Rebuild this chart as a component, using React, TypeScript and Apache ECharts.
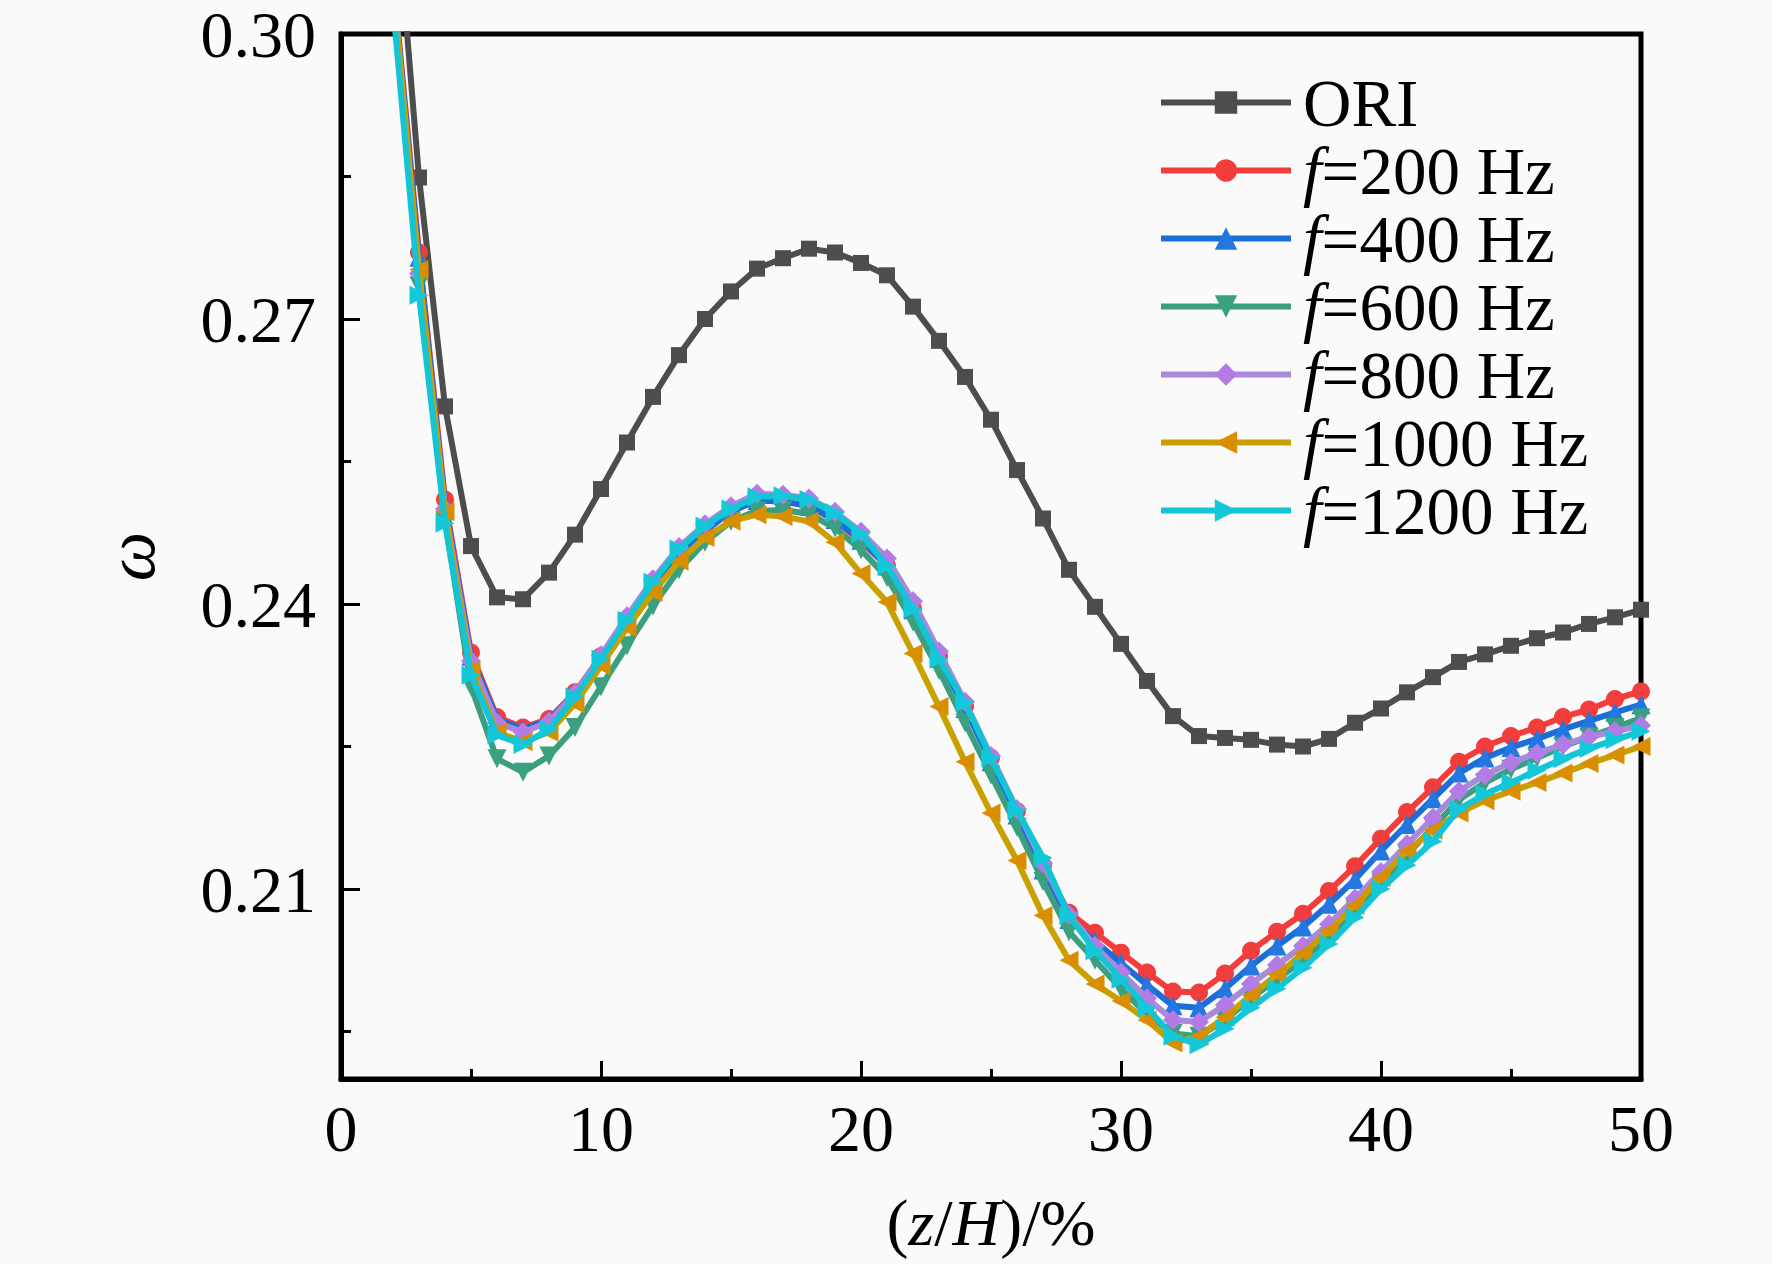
import React, { useEffect, useRef } from "react";
import * as echarts from "echarts";

const FONT = '"Liberation Serif", "Times New Roman", serif';

const xs = [2, 3, 4, 5, 6, 7, 8, 9, 10, 11, 12, 13, 14, 15, 16, 17, 18, 19, 20, 21, 22, 23, 24, 25, 26, 27, 28, 29, 30, 31, 32, 33, 34, 35, 36, 37, 38, 39, 40, 41, 42, 43, 44, 45, 46, 47, 48, 49, 50];

const seriesNames = ["ORI", "f=200 Hz", "f=400 Hz", "f=600 Hz", "f=800 Hz", "f=1000 Hz", "f=1200 Hz"];

const ori = [0.3180, 0.2849, 0.2608, 0.2461, 0.2407, 0.2405, 0.2433, 0.2473, 0.2521, 0.2570, 0.2618, 0.2662, 0.2700, 0.2729, 0.2753, 0.2764, 0.2774, 0.2770, 0.2759, 0.2746, 0.2713, 0.2677, 0.2639, 0.2594, 0.2541, 0.2490, 0.2436, 0.2397, 0.2358, 0.2319, 0.2282, 0.2261, 0.2259, 0.2257, 0.2252, 0.2250, 0.2258, 0.2275, 0.2290, 0.2307, 0.2323, 0.2339, 0.2347, 0.2356, 0.2364, 0.2370, 0.2379, 0.2386, 0.2394];

const f200 = [0.3060, 0.2770, 0.2510, 0.2349, 0.2281, 0.2270, 0.2279, 0.2307, 0.2345, 0.2384, 0.2422, 0.2455, 0.2478, 0.2498, 0.2510, 0.2508, 0.2503, 0.2488, 0.2466, 0.2440, 0.2395, 0.2345, 0.2292, 0.2238, 0.2182, 0.2125, 0.2075, 0.2054, 0.2033, 0.2012, 0.1992, 0.1991, 0.2011, 0.2035, 0.2055, 0.2074, 0.2098, 0.2124, 0.2153, 0.2181, 0.2207, 0.2234, 0.2250, 0.2261, 0.2270, 0.2281, 0.2289, 0.2300, 0.2308];

const f400 = [0.3055, 0.2765, 0.2505, 0.2345, 0.2279, 0.2268, 0.2278, 0.2305, 0.2343, 0.2382, 0.2420, 0.2453, 0.2477, 0.2497, 0.2509, 0.2508, 0.2503, 0.2489, 0.2467, 0.2440, 0.2394, 0.2343, 0.2290, 0.2234, 0.2178, 0.2120, 0.2068, 0.2045, 0.2022, 0.1999, 0.1977, 0.1975, 0.1995, 0.2019, 0.2040, 0.2060, 0.2084, 0.2110, 0.2140, 0.2168, 0.2195, 0.2222, 0.2238, 0.2249, 0.2258, 0.2268, 0.2277, 0.2286, 0.2294];

const f600 = [0.3040, 0.2735, 0.2488, 0.2313, 0.2237, 0.2223, 0.2240, 0.2270, 0.2313, 0.2356, 0.2398, 0.2436, 0.2465, 0.2487, 0.2498, 0.2499, 0.2495, 0.2480, 0.2457, 0.2428, 0.2381, 0.2330, 0.2275, 0.2220, 0.2165, 0.2108, 0.2055, 0.2025, 0.1995, 0.1968, 0.1948, 0.1945, 0.1962, 0.1985, 0.2005, 0.2025, 0.2050, 0.2078, 0.2106, 0.2136, 0.2165, 0.2194, 0.2212, 0.2226, 0.2238, 0.2250, 0.2260, 0.2270, 0.2280];

const f800 = [0.3050, 0.2748, 0.2500, 0.2340, 0.2275, 0.2265, 0.2276, 0.2306, 0.2346, 0.2387, 0.2426, 0.2460, 0.2484, 0.2503, 0.2516, 0.2515, 0.2511, 0.2497, 0.2476, 0.2448, 0.2403, 0.2350, 0.2297, 0.2240, 0.2184, 0.2127, 0.2073, 0.2040, 0.2012, 0.1985, 0.1962, 0.1960, 0.1978, 0.2000, 0.2020, 0.2040, 0.2063, 0.2090, 0.2118, 0.2147, 0.2175, 0.2203, 0.2220, 0.2233, 0.2243, 0.2252, 0.2260, 0.2266, 0.2272];

const f1000 = [0.3050, 0.2752, 0.2497, 0.2330, 0.2265, 0.2255, 0.2265, 0.2295, 0.2335, 0.2375, 0.2412, 0.2445, 0.2470, 0.2487, 0.2494, 0.2492, 0.2487, 0.2465, 0.2432, 0.2402, 0.2348, 0.2292, 0.2234, 0.2180, 0.2130, 0.2072, 0.2025, 0.2000, 0.1982, 0.1962, 0.1938, 0.1945, 0.1965, 0.1988, 0.2010, 0.2032, 0.2056, 0.2083, 0.2112, 0.2140, 0.2162, 0.2180, 0.2193, 0.2203, 0.2212, 0.2222, 0.2232, 0.2241, 0.2250];

const f1200 = [0.3030, 0.2725, 0.2485, 0.2325, 0.2262, 0.2252, 0.2268, 0.2302, 0.2342, 0.2383, 0.2423, 0.2458, 0.2482, 0.2500, 0.2513, 0.2514, 0.2510, 0.2496, 0.2474, 0.2440, 0.2395, 0.2342, 0.2296, 0.2238, 0.2183, 0.2133, 0.2072, 0.2035, 0.2005, 0.1975, 0.1945, 0.1936, 0.1953, 0.1975, 0.1995, 0.2017, 0.2042, 0.2070, 0.2100, 0.2125, 0.2150, 0.2184, 0.2200, 0.2212, 0.2225, 0.2237, 0.2248, 0.2257, 0.2266];

const yMajorTicks = [0.21, 0.24, 0.27, 0.3];
const yMinorTicks = [0.195, 0.225, 0.255, 0.285];

const seriesValues = [ori, f200, f400, f600, f800, f1000, f1200];
const lineColors = ["#4d4d4d", "#F23D3D", "#1B6ED8", "#3A9E80", "#A98AD8", "#C9A000", "#12C4D6"];
const markerColors = ["#4d4d4d", "#F23D3D", "#2277E0", "#3AA080", "#B37BE6", "#D98E00", "#14C8DA"];
const symbols = ["rect", "circle", "triangle", "triangle", "diamond", "triangle", "triangle"];
const rotations = [0, 0, 0, 180, 0, 90, -90];
const symbolSizes = [16, 18, 19, 19, 20, 19, 19];

export default function App() {
  const ref = useRef<HTMLDivElement>(null);

  useEffect(() => {
    document.body.style.margin = "0";
    const chart = echarts.init(ref.current!, null, { renderer: "svg" });
    const series = seriesNames.map((name, k) => ({
      name,
      type: "line",
      data: xs.map((x, i) => [x, seriesValues[k][i]]),
      symbol: symbols[k],
      symbolRotate: rotations[k],
      symbolSize: symbolSizes[k],
      showAllSymbol: true,
      clip: true,
      lineStyle: { color: lineColors[k], width: 6 },
      itemStyle: { color: markerColors[k] },
      z: 2 + k,
    }));

    chart.setOption({
      animation: false,
      backgroundColor: "#fafafa",
      grid: {
        left: 341,
        right: 131,
        top: 34,
        bottom: 185,
        show: true,
        borderColor: "#000",
        borderWidth: 5,
        backgroundColor: "transparent",
      },
      legend: {
        orient: "vertical",
        left: 1153,
        top: 64,
        itemWidth: 130,
        itemHeight: 28,
        itemGap: 1,
        selectedMode: false,
        data: seriesNames,
        lineStyle: { width: 6 },
        formatter: (name: string) => (name === "ORI" ? "ORI" : "{i|f}" + name.slice(1)),
        textStyle: {
          fontFamily: FONT,
          fontSize: 67,
          color: "#000",
          lineHeight: 60,
          padding: [0, 0, 0, 7],
          rich: {
            i: { fontFamily: FONT, fontSize: 67, fontStyle: "italic", color: "#000", lineHeight: 60 },
          },
        },
      },
      xAxis: {
        type: "value",
        min: 0,
        max: 50,
        interval: 10,
        name: "({i|z}/{i|H})/%",
        nameLocation: "middle",
        nameGap: 110,
        nameTextStyle: {
          fontFamily: FONT,
          fontSize: 66,
          color: "#000",
          rich: { i: { fontFamily: FONT, fontSize: 66, fontStyle: "italic", color: "#000" } },
        },
        axisLine: { show: true, lineStyle: { color: "#000", width: 5 } },
        axisTick: { show: true, inside: true, length: 18, lineStyle: { color: "#000", width: 3 } },
        minorTick: { show: true, splitNumber: 2, length: 10, lineStyle: { color: "#000", width: 3 } },
        axisLabel: { fontFamily: FONT, fontSize: 66, color: "#000", margin: 16 },
        splitLine: { show: false },
        minorSplitLine: { show: false },
      },
      yAxis: [
        {
          type: "value",
          min: 0.19,
          max: 0.3,
          name: "ω",
          nameLocation: "middle",
          nameGap: 176,
          nameRotate: 90,
          nameTextStyle: { fontFamily: FONT, fontSize: 70, fontStyle: "italic", color: "#000" },
          axisLine: { show: true, lineStyle: { color: "#000", width: 5 } },
          axisTick: {
            show: true,
            inside: true,
            length: 19,
            customValues: yMajorTicks,
            lineStyle: { color: "#000", width: 3 },
          },
          axisLabel: {
            fontFamily: FONT,
            fontSize: 66,
            lineHeight: 40,
            color: "#000",
            margin: 25,
            customValues: yMajorTicks,
            formatter: (v: number) => v.toFixed(2),
          },
          splitLine: { show: false },
        },
        {
          type: "value",
          min: 0.19,
          max: 0.3,
          position: "left",
          axisLine: { show: false },
          axisTick: {
            show: true,
            inside: true,
            length: 10,
            customValues: yMinorTicks,
            lineStyle: { color: "#000", width: 3 },
          },
          axisLabel: { show: false },
          splitLine: { show: false },
        },
      ],
      series,
    });

    return () => chart.dispose();
  }, []);

  return <div ref={ref} style={{ width: 1772, height: 1264 }} />;
}
